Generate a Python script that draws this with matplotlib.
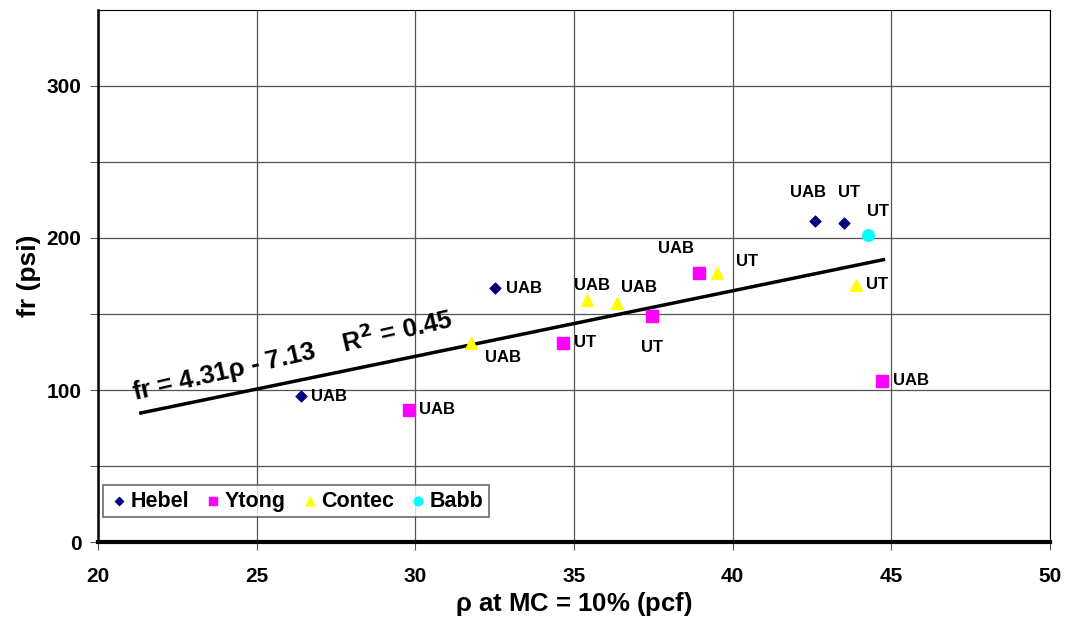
import matplotlib
matplotlib.use("Agg")
import matplotlib.pyplot as plt
import numpy as np

plt.rcParams['font.family'] = ['Liberation Sans', 'DejaVu Sans']
plt.rcParams['font.weight'] = 'bold'

# data
hebel_x = [26.4, 32.5, 42.6, 43.5]
hebel_y = [96, 167, 211, 210]
hebel_lab = ["UAB", "UAB", "UAB", "UT"]

ytong_x = [29.8, 34.65, 37.45, 38.95, 44.7]
ytong_y = [87, 131, 149, 177, 106]
ytong_lab = ["UAB", "UT", "UT", "UAB", "UAB"]

contec_x = [31.75, 35.4, 36.35, 39.5, 43.9]
contec_y = [131, 159, 157, 177, 169]
contec_lab = ["UAB", "UAB", "UAB", "UT", "UT"]

babb_x = [44.25]
babb_y = [202]
babb_lab = ["UT"]

# label offsets in pixels (centre of text relative to point)
hebel_off = [(28, 0), (29, 0), (-7, 29), (5, 30)]
ytong_off = [(28, 0), (22, 0), (0, -32), (-23, 24), (29, 0)]
contec_off = [(32, -15), (5, 15), (22, 16), (30, 11), (21, 1)]
babb_off = [(10, 23)]

slope, intercept = 4.31, -7.13
fit_x = [21.35, 44.75]

fig = plt.figure(figsize=(10.7, 6.24), dpi=100)
ax = fig.add_axes([0.0916, 0.1314, 0.8897, 0.8526])

ax.scatter(hebel_x, hebel_y, marker='D', s=30, color='#000080', label='Hebel', zorder=3)
ax.scatter(ytong_x, ytong_y, marker='s', s=70, color='#FF00FF', label='Ytong', zorder=3)
ax.scatter(contec_x, contec_y, marker='^', s=70, color='#FFFF00', label='Contec', zorder=3)
ax.scatter(babb_x, babb_y, marker='o', s=70, color='#00FFFF', label='Babb', zorder=3)

for xs, ys, labs, offs in [(hebel_x, hebel_y, hebel_lab, hebel_off),
                           (ytong_x, ytong_y, ytong_lab, ytong_off),
                           (contec_x, contec_y, contec_lab, contec_off),
                           (babb_x, babb_y, babb_lab, babb_off)]:
    for x, y, t, o in zip(xs, ys, labs, offs):
        ax.annotate(t, (x, y), xytext=o, textcoords='offset pixels',
                    ha='center', va='center', fontsize=12, fontweight='bold')

fx = np.array(fit_x)
ax.plot(fx, slope * fx + intercept, color='black', lw=2.5, zorder=2)
ax.text(21.2, 88, r"fr = 4.31$\mathregular{\rho}$ - 7.13    R$^2$ = 0.45",
        rotation=13, rotation_mode='anchor', fontsize=18.5, fontweight='bold',
        ha='left', va='bottom')

ax.set_xlim(20, 50)
ax.set_ylim(0, 350)
ax.set_xticks(np.arange(20, 51, 5))
ax.set_yticks(np.arange(0, 301, 50))
ax.set_yticklabels([str(v) if v % 100 == 0 else "" for v in range(0, 301, 50)])
ax.grid(True, color='#555555', lw=0.9)
ax.set_axisbelow(True)
ax.tick_params(labelsize=15, length=6, direction='out', color='#555555')
ax.tick_params(axis='x', pad=12)
ax.tick_params(axis='y', pad=6)
for lab in ax.get_xticklabels() + ax.get_yticklabels():
    lab.set_fontweight('bold')
ax.spines['bottom'].set_linewidth(3)
ax.spines['left'].set_linewidth(1.8)

ax.set_xlabel(r"$\mathregular{\rho}$ at MC = 10% (pcf)", fontsize=18.5, fontweight='bold', labelpad=3)
ax.set_ylabel("fr (psi)", fontsize=19, fontweight='bold', labelpad=4)

leg = ax.legend(loc='lower left', ncol=4, prop={'weight': 'bold', 'size': 15.5},
                handletextpad=0.05, columnspacing=0.6, handlelength=1.0,
                borderpad=0.25, borderaxespad=0, fancybox=False, edgecolor='#444444',
                bbox_to_anchor=(0.005, 0.047), markerscale=0.75)
leg.get_frame().set_linewidth(1.2)

fig.savefig("out.png", dpi=100)
